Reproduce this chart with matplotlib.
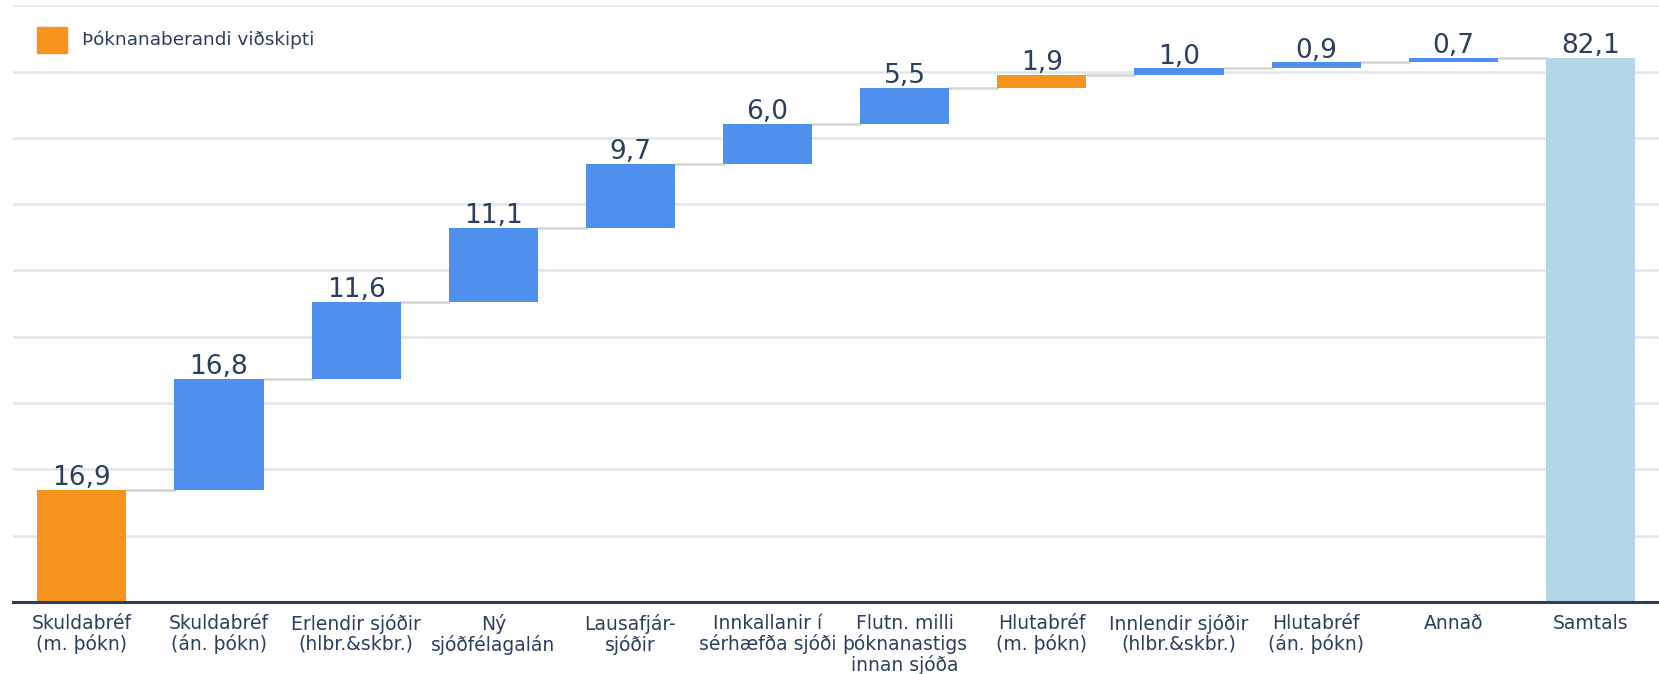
import matplotlib
matplotlib.use("Agg")
import matplotlib.pyplot as plt
import matplotlib.patches as mpatches

# data
categories = [
    "Skuldabréf\n(m. þókn)", "Skuldabréf\n(án. þókn)", "Erlendir sjóðir\n(hlbr.&skbr.)",
    "Ný\nsjóðfélagalán", "Lausafjár-\nsjóðir", "Innkallanir í\nsérhæfða sjóði",
    "Flutn. milli\nþóknanastigs\ninnan sjóða", "Hlutabréf\n(m. þókn)", "Innlendir sjóðir\n(hlbr.&skbr.)",
    "Hlutabréf\n(án. þókn)", "Annað", "Samtals",
]
values = [16.9, 16.8, 11.6, 11.1, 9.7, 6.0, 5.5, 1.9, 1.0, 0.9, 0.7]
fee_bearing = [True, False, False, False, False, False, False, True, False, False, False]
legend_label = "Þóknanaberandi viðskipti"

c_orange = "#F7941D"
c_blue = "#4F8FEE"
c_total = "#B3D7E6"
c_text = "#2A3F5F"
c_grid = "#DFE6EE"
c_conn = "#D4D4D4"

fig = plt.figure(figsize=(16.59, 6.74), dpi=100)
ax = fig.add_axes([0.008, 0.107, 0.992, 0.885])

width = 0.65
bottoms = []
run = 0.0
for v in values:
    bottoms.append(run)
    run += v
total = round(run, 1)

for i, (v, b, f) in enumerate(zip(values, bottoms, fee_bearing)):
    ax.bar(i, v, bottom=b, width=width, color=c_orange if f else c_blue, zorder=3)
    ax.text(i, b + v - 0.2, f"{v:.1f}".replace(".", ","), ha="center", va="bottom",
            fontsize=19, color=c_text, zorder=4)
n = len(values)
ax.bar(n, total, width=width, color=c_total, zorder=3)
ax.text(n, total - 0.2, f"{total:.1f}".replace(".", ","), ha="center", va="bottom",
        fontsize=19, color=c_text, zorder=4)

# connectors
tops = [b + v for b, v in zip(bottoms, values)]
for i, t in enumerate(tops):
    ax.plot([i + width / 2, i + 1 - width / 2], [t, t], color=c_conn, lw=1.8, zorder=2)

ax.set_xlim(-0.5, n + 0.5)
ax.set_ylim(0, 90)
ax.set_yticks(range(10, 91, 10))
ax.yaxis.grid(True, color=c_grid, lw=1.8, zorder=0)
ax.tick_params(axis="y", left=False, labelleft=False)
ax.set_xticks(range(n + 1))
ax.set_xticklabels(categories, fontsize=13.5, color=c_text, va="top", linespacing=1.08)
ax.tick_params(axis="x", length=0, pad=8.5)
for s in ["top", "right", "left"]:
    ax.spines[s].set_visible(False)
ax.spines["bottom"].set_color(c_text)
ax.spines["bottom"].set_linewidth(2.2)
ax.spines["bottom"].set_zorder(5)

# legend drawn by hand (single swatch)
fig.patches.append(mpatches.Rectangle((37 / 1659, 621 / 674), 30 / 1659, 26 / 674,
                                      transform=fig.transFigure, color=c_orange))
fig.text(82 / 1659, 634 / 674, legend_label, fontsize=13.3, color=c_text, va="center")

fig.savefig("out.png", dpi=100)
